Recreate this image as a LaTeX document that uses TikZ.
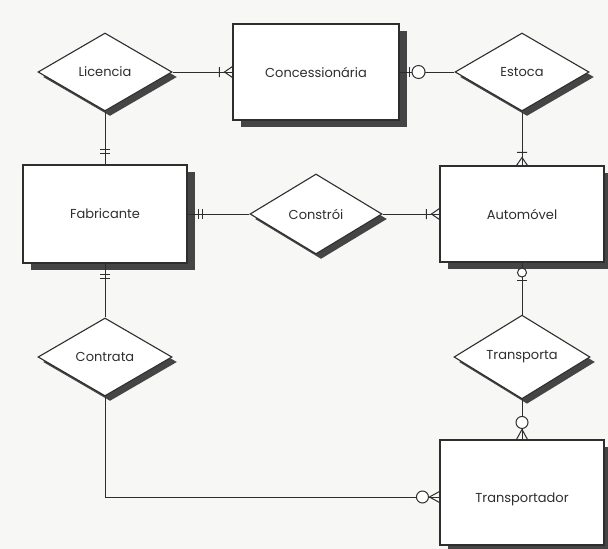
\documentclass[tikz,border=0pt]{standalone}
\usepackage{fontspec}
\setmainfont{Poppins}
\usetikzlibrary{shapes.geometric,shadows}
\definecolor{ink}{HTML}{2E2E2E}
\definecolor{shade}{HTML}{454545}
\definecolor{paper}{HTML}{F7F7F5}
\begin{document}
\begin{tikzpicture}[x=1pt,y=-1pt,
  label font/.style={font=\fontsize{13}{15}\selectfont, text=ink},
  entity/.style={rectangle, draw=ink, line width=1.1pt, fill=white, inner sep=0pt,
    label font, drop shadow={shadow xshift=8pt, shadow yshift=-7pt, fill=shade, opacity=1}},
  relation/.style={diamond, draw=ink, line width=1.1pt, fill=white, inner sep=0pt,
    minimum width=134pt, minimum height=78pt, label font,
    drop shadow={shadow xshift=5pt, shadow yshift=-5pt, fill=shade, opacity=1}},
  link/.style={draw=ink, line width=1pt},
  cardmark/.style={draw=ink, line width=1pt},
  % cardinality marks: local x axis points away from the entity, edge at origin
  one or many/.pic={\path[cardmark] (0,-5.5) -- (8,0) -- (0,5.5) (13,-5) -- (13,5);},
  only one/.pic={\path[cardmark] (11,-5) -- (11,5) (15,-5) -- (15,5);},
  zero or one/.pic={\path[cardmark] (10,-5) -- (10,5); \path[cardmark, fill=white] (19,0) circle[radius=6.5];},
  zero one near/.pic={\path[cardmark, fill=white] (10,0) circle[radius=4.5]; \path[cardmark] (18,-5) -- (18,5);},
  zero or many/.pic={\path[cardmark] (0,-5.5) -- (10,0) -- (0,5.5); \path[cardmark, fill=white] (17,0) circle[radius=6];},
]
\fill[paper] (0,0) rectangle (608,549);
\useasboundingbox (0,0) rectangle (608,549);

% entities
\node[entity, minimum width=166pt, minimum height=96pt] (conc) at (316,72) {Concessionária};
\node[entity, minimum width=164pt, minimum height=98pt] (fabr) at (105,214) {Fabricante};
\node[entity, minimum width=164pt, minimum height=96pt] (auto) at (522,214) {Automóvel};
\node[entity, minimum width=164pt, minimum height=105pt,
  label={[label font, yshift=-7pt]center:Transportador}] (tran) at (522,492.5) {};

% relationships
\node[relation] (lic) at (105,72) {Licencia};
\node[relation] (est) at (522,72) {Estoca};
\node[relation, minimum width=132pt, minimum height=80pt] (con) at (316,214) {Constrói};
\node[relation] (ctr) at (105,357) {Contrata};
\node[relation, minimum width=136pt] (tra) at (522,357) {Transporta};

% connectors
\path[link] (lic.east) -- (conc.west);
\path[link] (lic.south) -- (fabr.north);
\path[link] (conc.east) -- (est.west);
\path[link] (est.south) -- (auto.north);
\path[link] (fabr.east) -- (con.west);
\path[link] (con.east) -- (auto.west);
\path[link] (fabr.south) -- (ctr.north);
\path[link] (auto.south) -- (tra.north);
\path[link] (tra.south) -- (tran.north);
\path[link] (ctr.south) |- ([yshift=-4.5pt]tran.west);

% cardinalities
\pic[rotate=180] at (conc.west) {one or many};
\pic at (conc.east) {zero or one};
\pic[rotate=90] at (fabr.north) {only one};
\pic at (fabr.east) {only one};
\pic[rotate=-90] at (fabr.south) {only one};
\pic[rotate=90] at (auto.north) {one or many};
\pic[rotate=180] at (auto.west) {one or many};
\pic[rotate=-90] at (auto.south) {zero one near};
\pic[rotate=90] at (tran.north) {zero or many};
\pic[rotate=180] at ([yshift=-4.5pt]tran.west) {zero or many};
\end{tikzpicture}
\end{document}
